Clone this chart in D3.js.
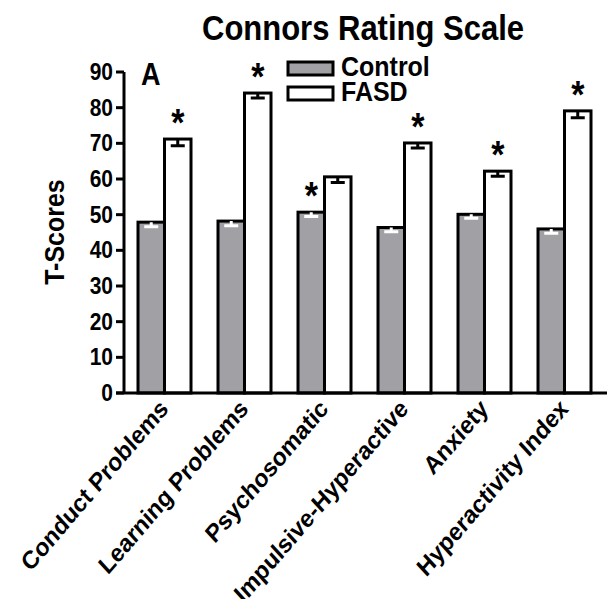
<!DOCTYPE html>
<html>
<head>
<meta charset="utf-8">
<script src="https://cdn.jsdelivr.net/npm/d3@7"></script>
<style>
  body { margin: 0; background: #fff; }
  text { font-family: "Liberation Sans", Arial, sans-serif; font-weight: bold; fill: #000; }
</style>
</head>
<body>
<div id="chart"></div>
<script>
// chart values
var categories = ["Conduct Problems", "Learning Problems", "Psychosomatic",
    "Impulsive-Hyperactive", "Anxiety", "Hyperactivity Index"];
var groups = ["Control", "FASD"];
var controlMeans = [47.9, 48.2, 50.7, 46.4, 50.1, 46.0];
var controlSem = [1.3, 1.3, 1.2, 1.2, 1.1, 1.2];
var fasdMeans = [71.2, 84.1, 60.6, 70.1, 62.2, 79.1];
var fasdSem = [1.9, 1.4, 1.6, 1.4, 1.4, 1.9];
var starOn = ["FASD", "FASD", "Control", "FASD", "FASD", "FASD"];
var yTicks = [0, 10, 20, 30, 40, 50, 60, 70, 80, 90];

var svgWidth = 608;
var svgHeight = 599;
// picture is a little taller than wide, so text gets the same stretch
var SY = 1.13;

var margin = { top: 72, left: 124, bottom: 206, right: 3 };
var height = svgHeight - margin.top - margin.bottom;

var svg = d3.select("#chart")
    .append("svg")
    .attr("width", svgWidth)
    .attr("height", svgHeight);

var colors = { Control: "#a1a1a5", FASD: "#ffffff" };

var yScale = d3.scaleLinear()
    .domain([0, 90])
    .range([margin.top + height, margin.top]);

var xScale = d3.scaleBand()
    .domain(categories)
    .range([margin.left, 605])
    .paddingInner(0.3375)
    .paddingOuter(0.175);

var xSub = d3.scaleBand()
    .domain(groups)
    .range([0, xScale.bandwidth()]);

var rows = categories.map(function (c, i) {
    return {
        cat: c,
        bars: [
            { key: "Control", mean: controlMeans[i], sem: controlSem[i] },
            { key: "FASD", mean: fasdMeans[i], sem: fasdSem[i] }
        ],
        star: starOn[i]
    };
});

// title
svg.append("text")
    .attr("transform", "translate(363,40) scale(1," + SY + ")")
    .attr("text-anchor", "middle")
    .attr("font-size", 31)
    .text("Connors Rating Scale");

// bars
var groupSel = svg.selectAll(".grp")
    .data(rows)
    .enter()
    .append("g")
    .attr("class", "grp")
    .attr("transform", d => `translate(${xScale(d.cat)},0)`);

groupSel.selectAll("rect")
    .data(d => d.bars)
    .enter()
    .append("rect")
    .attr("x", d => xSub(d.key))
    .attr("y", d => yScale(d.mean))
    .attr("width", xSub.bandwidth())
    .attr("height", d => yScale(0) - yScale(d.mean))
    .attr("fill", d => colors[d.key])
    .attr("stroke", "#000")
    .attr("stroke-width", 3);

// error bars (only the lower half shows, as in the figure)
groupSel.selectAll(".err")
    .data(d => d.bars)
    .enter()
    .append("path")
    .attr("class", "err")
    .attr("d", function (d) {
        var cx = xSub(d.key) + xSub.bandwidth() / 2;
        var y0 = yScale(d.mean);
        var y1 = yScale(d.mean - d.sem);
        return `M${cx},${y0}V${y1}M${cx - 7},${y1}H${cx + 7}`;
    })
    .attr("fill", "none")
    .attr("stroke", d => d.key === "Control" ? "#fff" : "#000")
    .attr("stroke-width", 3);

// significance stars
groupSel.append("text")
    .attr("transform", function (d) {
        var b = d.bars.find(e => e.key === d.star);
        var cx = xSub(b.key) + xSub.bandwidth() / 2;
        return `translate(${cx},${yScale(b.mean) - 3}) scale(1,${SY})`;
    })
    .attr("text-anchor", "middle")
    .attr("font-size", 34)
    .text("*");

// y axis
svg.append("line")
    .attr("x1", margin.left).attr("x2", margin.left)
    .attr("y1", yScale(90)).attr("y2", yScale(0))
    .attr("stroke", "#000").attr("stroke-width", 3);

var yTickSel = svg.selectAll(".ytick")
    .data(yTicks)
    .enter()
    .append("g")
    .attr("class", "ytick")
    .attr("transform", d => `translate(0,${yScale(d)})`);

yTickSel.append("line")
    .attr("x1", margin.left - 8).attr("x2", margin.left)
    .attr("stroke", "#000").attr("stroke-width", 3);

yTickSel.append("text")
    .attr("transform", `translate(${margin.left - 11},8) scale(1,${SY})`)
    .attr("text-anchor", "end")
    .attr("font-size", 21)
    .text(d => d);

// baseline
svg.append("line")
    .attr("x1", margin.left - 8).attr("x2", 607)
    .attr("y1", yScale(0)).attr("y2", yScale(0))
    .attr("stroke", "#000").attr("stroke-width", 3);

// y axis label
svg.append("text")
    .attr("transform", `translate(64,232) scale(${SY},1) rotate(-90)`)
    .attr("text-anchor", "middle")
    .attr("font-size", 25)
    .text("T-Scores");

// panel letter
svg.append("text")
    .attr("transform", `translate(141,85) scale(1,${SY})`)
    .attr("font-size", 27)
    .text("A");

// x labels
svg.selectAll(".xlab")
    .data(categories)
    .enter()
    .append("text")
    .attr("class", "xlab")
    .attr("transform", d => `translate(${xScale(d) + xScale.bandwidth() / 2 + 5},${yScale(0) + 17}) scale(1,${SY}) rotate(-46)`)
    .attr("text-anchor", "end")
    .attr("font-size", 22.5)
    .text(d => d);

// legend
var legend = svg.selectAll(".leg")
    .data(groups)
    .enter()
    .append("g")
    .attr("class", "leg")
    .attr("transform", (d, i) => `translate(288,${62 + i * 25})`);

legend.append("rect")
    .attr("width", 45)
    .attr("height", 13)
    .attr("fill", d => colors[d])
    .attr("stroke", "#000")
    .attr("stroke-width", 3);

legend.append("text")
    .attr("transform", `translate(53,14) scale(1,${SY})`)
    .attr("font-size", 25)
    .text(d => d);
</script>
</body>
</html>
